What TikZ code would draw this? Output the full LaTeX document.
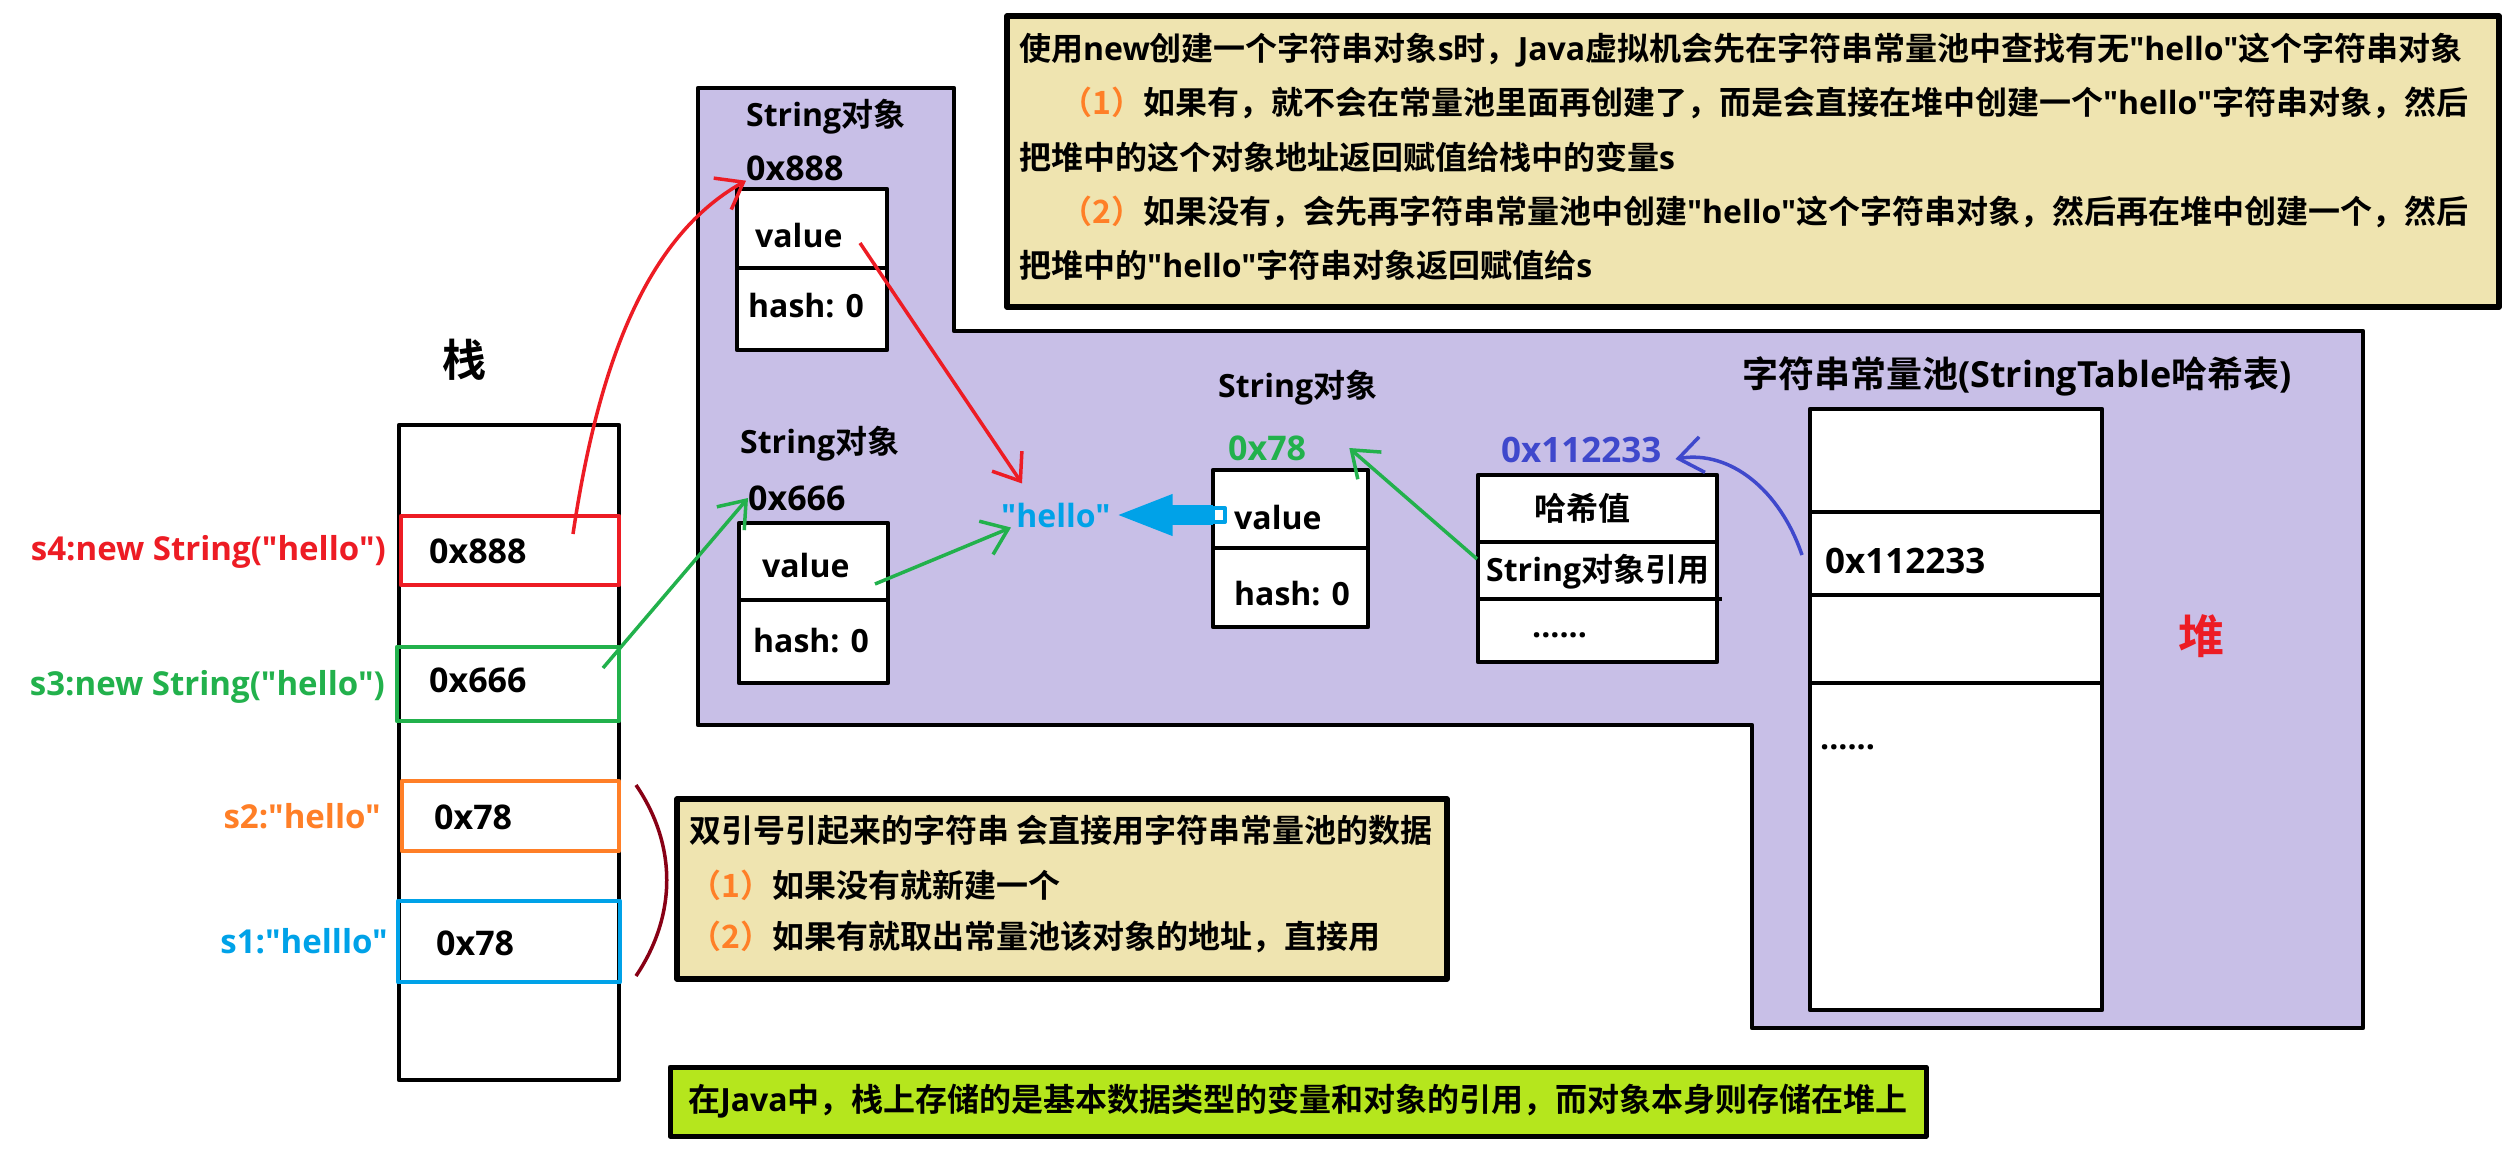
\documentclass[tikz,border=0pt]{standalone}
\usepackage{fontspec}
\setmainfont{Noto Sans CJK SC Bold}
\newfontfamily\enfam{Open Sans}
\newcommand{\en}{\enfam\bfseries}
\usetikzlibrary{arrows.meta}
\definecolor{heapfill}{HTML}{C8BFE7}
\definecolor{notefill}{HTML}{EFE4B0}
\definecolor{limefill}{HTML}{B5E61D}
\definecolor{pred}{HTML}{ED1C24}
\definecolor{pgreen}{HTML}{22B14C}
\definecolor{porange}{HTML}{FF7F27}
\definecolor{pcyan}{HTML}{00A2E8}
\definecolor{pindigo}{HTML}{3F48CC}
\definecolor{pbrown}{HTML}{880015}
\newcommand{\fsz}[1]{\fontsize{#1}{#1}\selectfont}

\begin{document}
\begin{tikzpicture}[x=1pt, y=-1pt, line join=round,
    cellbox/.style={line width=4.5pt, fill=white},
    notebox/.style={line width=5.5pt, fill=notefill},
    zh/.style={inner sep=0pt, anchor=west, font=\fsz{32}},
    lat/.style={inner sep=0pt, anchor=west, font=\en\fsz{32}},
    addr/.style={inner sep=0pt, anchor=west, font=\en\fsz{34}},
    var/.style={inner sep=0pt, anchor=east, font=\en\fsz{33}},
    ptr/.style={line width=3.5pt, -{Straight Barb[length=24pt, width=36pt]}}]
    \useasboundingbox (0,0) rectangle (2506,1162);
    \fill[white] (0,0) rectangle (2506,1162);

    \draw[line width=4.5pt, fill=heapfill] (698,88) -- (954,88) -- (954,331) -- (2363,331) -- (2363,1028) -- (1752,1028) -- (1752,725) -- (698,725) -- cycle;
    \node[font=\fsz{46}, text=pred] (heap) at (2201,636) {堆};

    \draw[notebox] (1007,16) rectangle (2499,307);
    \node[zh] (n1) at (1019,50) {使用{\en new}创建一个字符串对象{\en s}时，{\en Java}虚拟机会先在字符串常量池中查找有无{\en "hello"}这个字符串对象};
    \node[zh] (n2) at (1060,103) {{\color{porange}（1）}如果有，就不会在常量池里面再创建了，而是会直接在堆中创建一个{\en "hello"}字符串对象，然后};
    \node[zh] (n3) at (1019,157) {把堆中的这个对象地址返回赋值给栈中的变量{\en s}};
    \node[zh] (n4) at (1060,212) {{\color{porange}（2）}如果没有，会先再字符串常量池中创建{\en "hello"}这个字符串对象，然后再在堆中创建一个，然后};
    \node[zh] (n5) at (1019,265) {把堆中的{\en "hello"}字符串对象返回赋值给{\en s}};

    \draw[line width=4.5pt] (399,425) rectangle (619,1080);
    \node[font=\fsz{44}] (stack) at (464,360) {栈};
    \draw[line width=4.5pt, pred] (401,516) rectangle (619,585);
    \draw[line width=4.5pt, pgreen] (397,647) rectangle (619,721);
    \draw[line width=4.5pt, porange] (402,781) rectangle (619,851);
    \draw[line width=4.5pt, pcyan] (398,901) rectangle (620,982);
    \node[addr] (c4) at (429,551) {0x888};
    \node[addr] (c3) at (429,680) {0x666};
    \node[addr] (c2) at (434,817) {0x78};
    \node[addr] (c1) at (436,943) {0x78};
    \node[var, text=pred] (s4) at (386,552) {s4:new String("hello")};
    \node[var, text=pgreen] (s3) at (385,687) {s3:new String("hello")};
    \node[var, text=porange] (s2) at (381,816) {s2:"hello"};
    \node[var, text=pcyan] (s1) at (388,941) {s1:"helllo"};
    \coordinate (s4p) at (573,534);
    \coordinate (s3p) at (603,668);

    \draw[pbrown, line width=3.5pt] (636,785) .. controls (677,845) and (677,915) .. (636,976);
    \draw[notebox] (677,799) rectangle (1447,979);
    \node[zh] (m1) at (689,830) {双引号引起来的字符串 会直接用字符串常量池的数据};
    \node[zh] (m2) at (689,885) {{\color{porange}（1）}如果没有就新建一个};
    \node[zh] (m3) at (689,937) {{\color{porange}（2）}如果有就取出常量池该对象的地址，直接用};

    \draw[line width=5pt, fill=limefill] (670,1067) rectangle (1926,1136);
    \node[font=\fsz{32}] (tip) at (1298,1101) {在{\en Java}中，栈上存储的是基本数据类型的变量和对象的引用，而对象本身则存储在堆上};

    \node[zh] (o1name) at (746,117) {{\en String}对象};
    \node[addr] (o1addr) at (746,168) {0x888};
    \draw[cellbox] (737,189) rectangle (887,350);
    \draw[line width=4.5pt] (737,268) -- (887,268);
    \node[lat] (o1val) at (755,235) {value};
    \node[lat] (o1hash) at (748,306) {hash: 0};
    \coordinate (o1p) at (860,243);

    \node[zh] (o2name) at (740,444) {{\en String}对象};
    \node[addr] (o2addr) at (748,498) {0x666};
    \draw[cellbox] (739,523) rectangle (888,683);
    \draw[line width=4.5pt] (739,600) -- (888,600);
    \node[lat] (o2val) at (762,565) {value};
    \node[lat] (o2hash) at (753,641) {hash: 0};
    \coordinate (o2p) at (875,584);

    \node[lat, text=pcyan] (hello) at (1001,515) {"hello"};

    \node[zh] (o3name) at (1218,388) {{\en String}对象};
    \node[addr, text=pgreen] (o3addr) at (1228,448) {0x78};
    \draw[cellbox] (1213,470) rectangle (1368,627);
    \draw[line width=4.5pt] (1213,548) -- (1368,548);
    \node[lat] (o3val) at (1234,517) {value};
    \node[lat] (o3hash) at (1234,594) {hash: 0};
    \draw[pcyan, line width=20pt, -{Triangle[length=58pt, width=37pt]}] (1213,515) -- ([xshift=4pt]hello.east);
    \draw[pcyan, line width=4pt, fill=white] (1213,508) rectangle (1225,522);

    \node[addr, text=pindigo, font=\en\fsz{35}] (eaddr) at (1501,450) {0x112233};
    \draw[cellbox] (1478,475) rectangle (1717,662);
    \draw[line width=4.5pt] (1478,542) -- (1717,542);
    \draw[line width=4.5pt] (1478,599) -- (1722,599);
    \node[font=\fsz{32}, inner sep=0pt] (ehash) at (1582,508) {哈希值};
    \node[zh] (eref) at (1486,572) {{\en String}对象引用};
    \node[lat, anchor=base west] (edots) at (1532,637) {......};
    \coordinate (ep) at (1477,559);

    \node[font=\fsz{36}, inner sep=0pt] (ttitle) at (2017,376) {字符串常量池{\en (StringTable}哈希表{\en )}};
    \draw[cellbox] (1810,409) rectangle (2102,1010);
    \draw[line width=4.5pt] (1810,512) -- (2102,512);
    \draw[line width=4.5pt] (1810,595) -- (2102,595);
    \draw[line width=4.5pt] (1810,683) -- (2102,683);
    \node[addr, font=\en\fsz{35}] (taddr) at (1825,561) {0x112233};
    \node[lat, anchor=base west] (tdots) at (1820,749) {......};
    \coordinate (tp) at (1802,555);

    \draw[ptr, pred] (s4p) .. controls (596,380) and (640,240) .. (o1addr.south west);
    \draw[ptr, pred] (o1p) -- ([shift={(21,-19)}]hello.north west);
    \draw[ptr, pgreen] (s3p) -- (o2addr.west);
    \draw[ptr, pgreen] (o2p) -- ([xshift=10pt]hello.south west);
    \draw[ptr, pgreen] (ep) -- ([xshift=43pt]o3addr.east);
    \draw[ptr, pindigo] (tp) .. controls (1780,490) and (1730,450) .. ([shift={(14,9)}]eaddr.east);
\end{tikzpicture}
\end{document}
